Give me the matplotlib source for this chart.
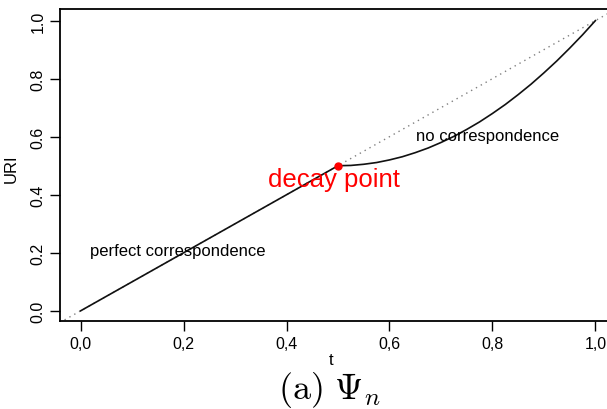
import matplotlib
matplotlib.use('Agg')
import matplotlib.pyplot as plt
from matplotlib.ticker import FuncFormatter

plt.rcParams['font.family'] = ['Liberation Sans', 'DejaVu Sans']
plt.rcParams['mathtext.fontset'] = 'cm'

# values
t_linear = [0.0, 0.5]
uri_linear = [0.0, 0.5]
t_decay = [0.5, 0.525, 0.55, 0.575, 0.6, 0.625, 0.65, 0.675, 0.7, 0.725, 0.75,
           0.775, 0.8, 0.825, 0.85, 0.875, 0.9, 0.925, 0.95, 0.975, 1.0]
uri_decay = [0.5, 0.501, 0.505, 0.511, 0.52, 0.531, 0.545, 0.561, 0.58, 0.601, 0.625,
             0.651, 0.68, 0.711, 0.745, 0.781, 0.82, 0.861, 0.905, 0.951, 1.0]
decay_t = 0.5
decay_uri = 0.5
ticks = [0.0, 0.2, 0.4, 0.6, 0.8, 1.0]

fig = plt.figure(figsize=(6.07, 4.10), dpi=100)
ax = fig.add_axes([60 / 607, 88 / 410, 556 / 607, 312 / 410])

ax.plot([-0.05, 1.05], [-0.05, 1.05], color='gray', linestyle=(0, (1, 3)), linewidth=1.0)
ax.plot(t_linear, uri_linear, color='#111111', linewidth=1.2)
ax.plot(t_decay, uri_decay, color='#111111', linewidth=1.2)
ax.plot([decay_t], [decay_uri], 'o', color='red', markersize=5)

ax.text(0.492, 0.455, 'decay point', color='red', fontsize=18.5, ha='center', va='center')
ax.text(0.188, 0.207, 'perfect correspondence', fontsize=12, ha='center', va='center')
ax.text(0.79, 0.603, 'no correspondence', fontsize=12, ha='center', va='center')

ax.set_xlim(-0.04, 1.04)
ax.set_ylim(-0.035, 1.04)
ax.set_xticks(ticks)
ax.set_yticks(ticks)
ax.xaxis.set_major_formatter(FuncFormatter(lambda v, p: '{:.1f}'.format(v).replace('.', ',')))
ax.yaxis.set_major_formatter(FuncFormatter(lambda v, p: '{:.1f}'.format(v)))
ax.tick_params(direction='out', length=7, width=1.0, labelsize=11.5)
ax.tick_params(axis='y', labelrotation=90)
for lab in ax.get_yticklabels():
    lab.set_va('center')
for s in ax.spines.values():
    s.set_linewidth(1.3)

ax.set_ylabel('URI', fontsize=12)
ax.yaxis.set_label_coords(-0.075, 0.49)
ax.set_xlabel('t', fontsize=12)
ax.xaxis.set_label_coords(0.487, -0.1)

fig.text(329 / 607, 1 - 390 / 410, r'$\mathrm{(a)}\ \Psi_n$', fontsize=26, ha='center', va='center')

fig.savefig('out.png', dpi=100)
